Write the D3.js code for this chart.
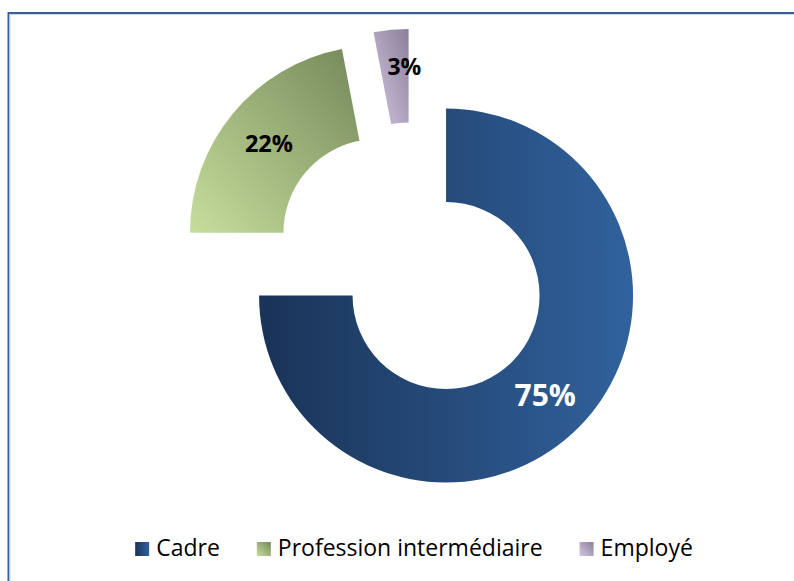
<!DOCTYPE html>
<html>
<head>
<meta charset="utf-8">
<script src="https://cdn.jsdelivr.net/npm/d3@7"></script>
<style>
  body { margin: 0; background: #fff; }
  svg { display: block; }
</style>
</head>
<body>
<div id="chart"></div>
<script>
// chart data
var categories = ["Cadre", "Profession intermédiaire", "Employé"];
var values = [75, 22, 3];
var labels = ["75%", "22%", "3%"];

var width = 794,
    height = 581;

// gradient stops per slice: [dark, light]
var gradStops = [["#1a3357", "#31629d"], ["#75885a", "#c6de9c"], ["#8b7f99", "#d1c5e1"]];
var labelColors = ["#ffffff", "#000000", "#000000"];

var cx = 413, cy = 262.5,
    rOut = 187, rIn = rOut * 0.5,
    explode = rOut * 0.25;

var svg = d3.select("#chart").append("svg")
    .attr("width", width)
    .attr("height", height);

var defs = svg.append("defs");

// blue is shaded left to right, the others from bottom-left to top-right
var grads = defs.selectAll("linearGradient")
    .data(gradStops).enter().append("linearGradient")
      .attr("id", function(d, i) { return "grad" + i; })
      .attr("x1", 0).attr("y1", function(d, i) { return i == 0 ? 0 : 1; })
      .attr("x2", 1).attr("y2", 0);
grads.append("stop").attr("offset", "0%").attr("stop-color", function(d, i) { return i == 0 ? d[0] : d[1]; });
grads.append("stop").attr("offset", "100%").attr("stop-color", function(d, i) { return i == 0 ? d[1] : d[0]; });

// frame (cut at right and bottom like the original)
svg.append("rect")
    .attr("x", 8.5).attr("y", 13)
    .attr("width", 900).attr("height", 700)
    .attr("fill", "none")
    .attr("stroke", "#386092")
    .attr("stroke-width", 2);
svg.append("rect")
    .attr("x", 10).attr("y", 14.5)
    .attr("width", 900).attr("height", 700)
    .attr("fill", "none")
    .attr("stroke", "#c9d5ea")
    .attr("stroke-width", 1);

var pie = d3.pie().sort(null).value(function(d) { return d; });
var arc = d3.arc().innerRadius(rIn).outerRadius(rOut);
var arcs = pie(values);

// each slice pushed out along its middle angle
function offset(d) {
  var mid = (d.startAngle + d.endAngle) / 2;
  return [Math.sin(mid) * explode, -Math.cos(mid) * explode];
}

var slice = svg.selectAll(".slice")
    .data(arcs).enter().append("g")
      .attr("class", "slice")
      .attr("transform", function(d) {
        var o = offset(d);
        return "translate(" + (cx + o[0]) + "," + (cy + o[1]) + ")";
      });

slice.append("path")
    .attr("d", arc)
    .attr("fill", function(d, i) { return "url(#grad" + i + ")"; });

var labelSize = [30, 23.5, 23];
slice.append("text")
    .attr("transform", function(d, i) {
      var c = arc.centroid(d);
      // the thin slice label is lifted a little, as Excel did
      if (d.endAngle - d.startAngle < 0.3) { c[0] += 9; c[1] -= 10; }
      return "translate(" + c + ")";
    })
    .attr("text-anchor", "middle")
    .attr("dy", "0.36em")
    .attr("font-family", "'Open Sans', sans-serif")
    .attr("font-weight", "bold")
    .attr("font-size", function(d, i) { return labelSize[i] + "px"; })
    .attr("fill", function(d, i) { return labelColors[i]; })
    .text(function(d, i) { return labels[i]; });

// legend
var legend = svg.append("g").attr("class", "legend");
var item = legend.selectAll("g")
    .data(categories).enter().append("g");

item.append("rect")
    .attr("width", 14).attr("height", 14)
    .attr("y", 542)
    .attr("fill", function(d, i) { return "url(#grad" + i + ")"; });

item.append("text")
    .attr("x", 21)
    .attr("y", 556)
    .attr("font-family", "'Open Sans', sans-serif")
    .attr("font-size", "23px")
    .attr("fill", "#000")
    .text(function(d) { return d; });

var xpos = 0;
item.each(function() {
  var w = d3.select(this).select("text").node().getComputedTextLength();
  d3.select(this).attr("transform", "translate(" + xpos + ",0)");
  xpos += 21 + w + 37;
});
var total = xpos - 37;
legend.attr("transform", "translate(" + (414 - total / 2) + ",0)");
</script>
</body>
</html>
